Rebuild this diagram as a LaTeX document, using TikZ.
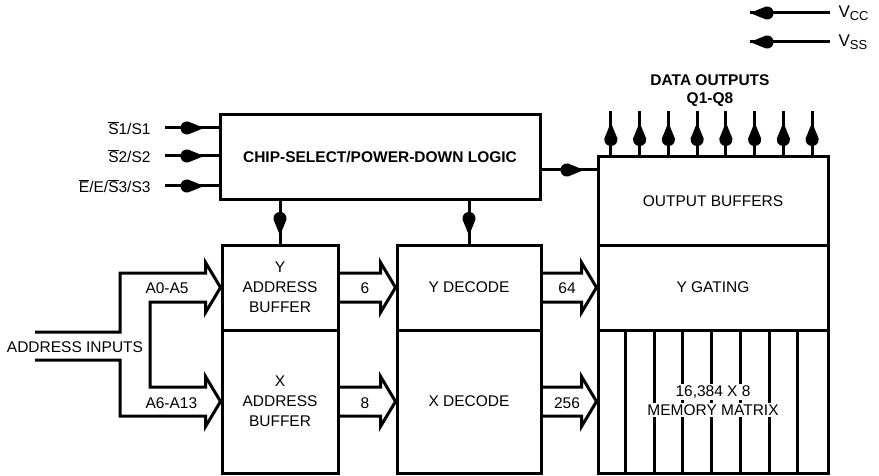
\documentclass[tikz,border=0pt]{standalone}
\usepackage{fontspec}
\setmainfont{Liberation Sans}
\usetikzlibrary{decorations.markings,calc}
\newcommand{\ovl}[1]{$\overline{\mbox{#1}}$}
\newcommand{\headshape}{\fill (1,0) -- (-15,-6.5) .. controls (-25,-7.5) and (-25,7.5) .. (-15,6.5) -- cycle;}
\begin{document}
\begin{tikzpicture}[x=1pt,y=-1pt,
  line width=3pt,
  every node/.style={font=\fontsize{15.5}{20}\selectfont},
  blk/.style={draw, rectangle, inner sep=0pt, align=center, line join=miter},
  bus/.style={draw, line join=miter},
  midarr/.style={postaction={decorate}, decoration={markings,
     mark=at position #1 with {\headshape}}},
  lbl/.style={inner sep=1pt}]
\useasboundingbox (0,0) rectangle (879,476);

% blocks
\node[blk, minimum width=320pt, minimum height=85pt] (chip) at (380,157.5)
  {\bfseries CHIP-SELECT/POWER-DOWN LOGIC};
\node[blk, minimum width=116pt, minimum height=85pt] (ybuf) at (280,287.5) {Y\\ADDRESS\\BUFFER};
\node[blk, minimum width=116pt, minimum height=143pt] (xbuf) at (280,401.5) {X\\ADDRESS\\BUFFER};
\node[blk, minimum width=144pt, minimum height=85pt] (ydec) at (469,287.5) {Y DECODE};
\node[blk, minimum width=144pt, minimum height=143pt] (xdec) at (469,401.5) {X DECODE};
\node[blk, minimum width=230pt, minimum height=88pt] (obuf) at (713,201) {OUTPUT BUFFERS};
\node[blk, minimum width=230pt, minimum height=85pt] (ygate) at (713,287.5) {Y GATING};
\node[blk, minimum width=230pt, minimum height=143pt] (mem) at (713,401.5) {};

% memory matrix columns
\foreach \k in {1,...,7} {
  \draw ($(mem.north west)+(28.75*\k,0)$) -- ($(mem.south west)+(28.75*\k,0)$);
}
\node[fill=white, inner sep=1.5pt] (mtxa) at (713,392) {16,384 X 8};
\node[fill=white, inner sep=1.5pt] (mtxb) at (713,410) {MEMORY MATRIX};

% chip select inputs
\coordinate (s1) at (165,128);
\coordinate (s2) at (165,156);
\coordinate (s3) at (165,186);
\node[lbl, anchor=east] (ls1) at (153,128) {\ovl{S}1/S1};
\node[lbl, anchor=east] (ls2) at (153,156) {\ovl{S}2/S2};
\node[lbl, anchor=east] (ls3) at (153,186) {\ovl{E}/E/\ovl{S}3/S3};
\draw[midarr=38pt] (s1) -- (s1 -| chip.west);
\draw[midarr=38pt] (s2) -- (s2 -| chip.west);
\draw[midarr=38pt] (s3) -- (s3 -| chip.west);

% chip to output buffers
\coordinate (co) at (540,170);
\draw[midarr=43pt] (co) -- (co -| obuf.west);

% chip down arrows
\draw[midarr=33pt] (ybuf.north |- chip.south) -- (ybuf.north);
\draw[midarr=33pt] (ydec.north |- chip.south) -- (ydec.north);

% data outputs
\foreach \k in {0,...,7} {
  \coordinate (d\k) at ($(obuf.north west)+(14.375+28.75*\k,0)$);
  \draw[midarr=32pt] (d\k) -- ++(0,-44);
}
\node[font=\fontsize{15.5}{20}\selectfont\bfseries] (dout) at (710,80) {DATA OUTPUTS};
\node[font=\fontsize{15.5}{20}\selectfont\bfseries] (qout) at (710,100) {Q1-Q8};

% power
\coordinate (vcc) at (830,13);
\coordinate (vss) at (830,42);
\draw[midarr=79pt] (vcc) -- ++(-80,0);
\draw[midarr=79pt] (vss) -- ++(-80,0);
\node[lbl, anchor=west] (lvcc) at (836,13) {\fontsize{17}{20}\selectfont V\raisebox{-3pt}{\fontsize{13}{13}\selectfont CC}};
\node[lbl, anchor=west] (lvss) at (836,42) {\fontsize{17}{20}\selectfont V\raisebox{-3pt}{\fontsize{13}{13}\selectfont SS}};

% address input bus
\draw[bus] (35,332) -- (120,332) -- (120,273)
  -- ($(ybuf.west)+(-15,-14.5)$) -- ($(ybuf.west)+(-15,-25)$) -- (ybuf.west)
  -- ($(ybuf.west)+(-15,25)$) -- ($(ybuf.west)+(-15,14.5)$)
  -- (150,302) -- (150,387)
  -- ($(xbuf.west)+(-15,-14.5)$) -- ($(xbuf.west)+(-15,-25)$) -- (xbuf.west)
  -- ($(xbuf.west)+(-15,25)$) -- ($(xbuf.west)+(-15,14.5)$)
  -- (120,416) -- (120,360) -- (35,360);
\node[lbl] (ain) at (75,347) {ADDRESS INPUTS};
\node[lbl, anchor=west] (la05) at (143,288) {A0-A5};
\node[lbl, anchor=west] (la613) at (143,403) {A6-A13};

% internal buses
\newcommand{\busarrow}[2]{%
  \draw[bus] ($(#1)+(0,-14.5)$) -- ($(#2)+(-15,-14.5)$) -- ($(#2)+(-15,-25)$) -- (#2)
    -- ($(#2)+(-15,25)$) -- ($(#2)+(-15,14.5)$) -- ($(#1)+(0,14.5)$);}
\busarrow{ybuf.east}{ydec.west}
\busarrow{xbuf.east}{xdec.west}
\busarrow{ydec.east}{ygate.west}
\busarrow{xdec.east}{mem.west}
\node[lbl] (n6) at (365,288) {6};
\node[lbl] (n8) at (365,403) {8};
\node[lbl] (n64) at (567,288) {64};
\node[lbl] (n256) at (567,403) {256};
\end{tikzpicture}
\end{document}
